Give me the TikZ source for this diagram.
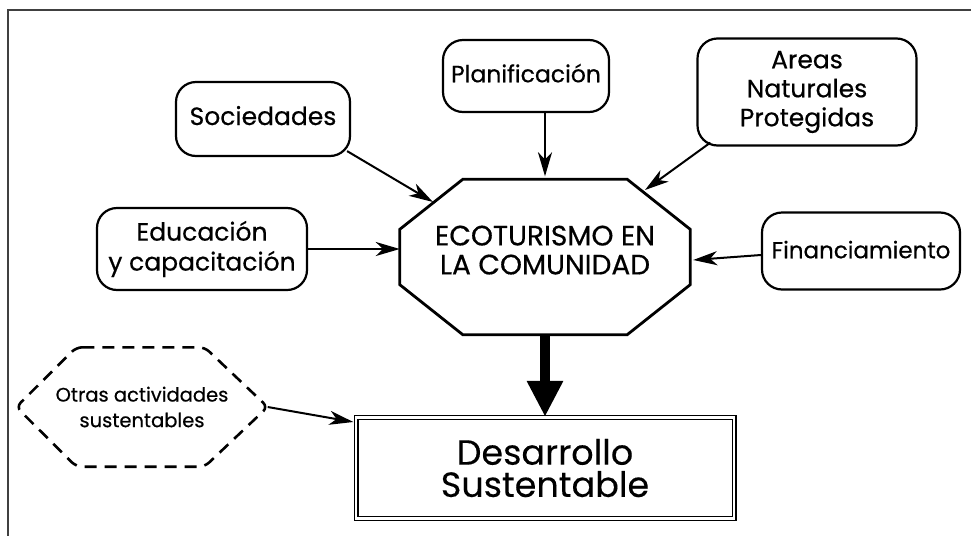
\documentclass[tikz,border=0pt]{standalone}
\usepackage{fontspec}
\setmainfont{Poppins}[FakeBold=0.5]
\newfontfamily\lightfont{Poppins}[FakeBold=0.2]
\usetikzlibrary{arrows.meta,calc}
\begin{document}
\begin{tikzpicture}[x=1pt,y=-1pt,
  rbox/.style={draw,line width=2.2pt,rounded corners=20pt,align=center,inner sep=2pt},
  conn/.style={line width=2pt,-{Stealth[length=24pt,width=14pt,inset=7pt]}},
  frame/.style={draw=black!75,line width=1.6pt}]
\useasboundingbox (0,0) rectangle (971,536);
\draw[frame] (971,10) -- (8,10) -- (8,536);
% nodes
\node[rbox,minimum width=174pt,minimum height=74pt,font=\fontsize{25}{30}\selectfont] (soc) at (263,119) {\raisebox{7pt}{Sociedades}};
\node[rbox,minimum width=166pt,minimum height=72pt,font=\fontsize{23.5}{30}\selectfont] (plan) at (526,76) {\raisebox{6pt}{Planificación}};
\node[rbox,minimum width=219pt,minimum height=107pt,font=\fontsize{25}{29}\selectfont] (areas) at (807,92) {Areas\\Naturales\\Protegidas};
\node[rbox,minimum width=210pt,minimum height=82pt,font=\fontsize{25}{33}\selectfont] (edu) at (202,249) {\raisebox{5pt}{\shortstack{Educación\\[7pt]y capacitación}}};
\node[rbox,minimum width=198pt,minimum height=77pt,font=\fontsize{23}{30}\selectfont] (fin) at (861,251) {\raisebox{3pt}{Financiamiento}};
\node[minimum width=290pt,minimum height=155pt,align=center,font=\fontsize{28}{33}\selectfont] (oct) at (545,257) {\raisebox{14pt}{\shortstack{ECOTURISMO EN\\[6pt]LA COMUNIDAD}}};
\draw[line width=2.8pt,line join=miter]
  ($(oct.north west)+(63,0)$) -- ($(oct.north east)+(-63,0)$) --
  ($(oct.north east)+(0,50)$) -- ($(oct.south east)+(0,-50)$) --
  ($(oct.south east)+(-63,0)$) -- ($(oct.south west)+(63,0)$) --
  ($(oct.south west)+(0,-50)$) -- ($(oct.north west)+(0,50)$) -- cycle;
\node[draw,double,line width=1.3pt,double distance=2.4pt,minimum width=378pt,minimum height=101pt,align=center,font=\lightfont\fontsize{35}{31}\selectfont] (des) at (545,468) {\shortstack{Desarrollo\\[3pt]Sustentable}};
\node[minimum width=251pt,minimum height=119pt,align=center,font=\fontsize{19.5}{33}\selectfont] (otr) at (142,407) {\shortstack{Otras actividades\\[8pt]sustentables}};
\draw[line width=2.6pt,dash pattern=on 12pt off 8pt,rounded corners=6pt]
  ($(otr.north west)+(60,0)$) -- ($(otr.north east)+(-63,0)$) -- (otr.east) --
  ($(otr.south east)+(-63,0)$) -- ($(otr.south west)+(60,0)$) -- (otr.west) -- cycle;
% connectors
\coordinate (socend) at (433,202);
\coordinate (areasend) at (645,190);
\draw[conn] (soc.south east) ++(-4,-6) -- (socend);
\draw[conn] (plan.south -| oct.north) -- ($(oct.north)+(0,-3)$);
\draw[conn] (areas.south west) ++(14,-4) -- (areasend);
\draw[conn] (edu.east) -- (edu.east -| oct.west);
\draw[conn] (fin.west) ++(0,4) -- ($(oct.east)+(3,3)$);
\draw[conn] (otr.east) -- ($(des.west)+(-2,-46)$);
\draw[line width=10pt,-{Triangle[length=36pt,width=34pt]}] (oct.south) -- (des.north);
\end{tikzpicture}
\end{document}
